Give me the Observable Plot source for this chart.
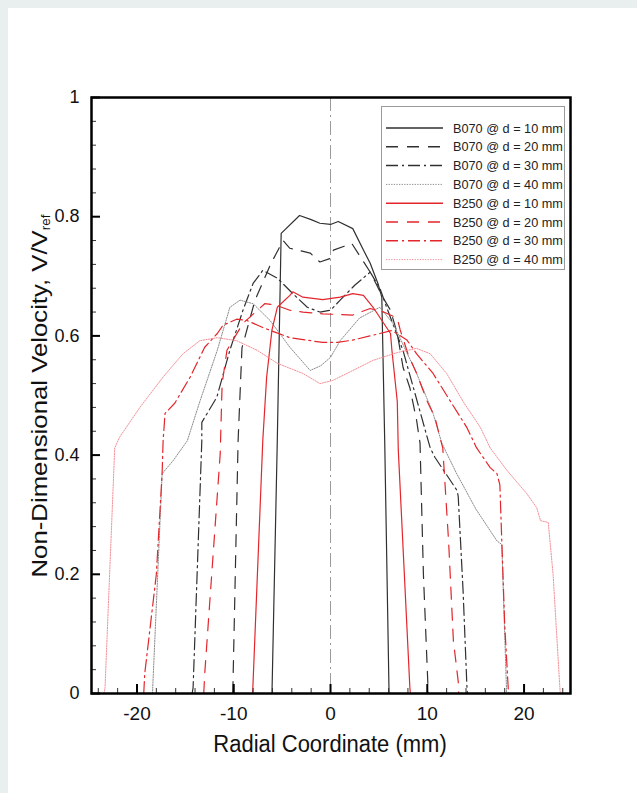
<!DOCTYPE html>
<html><head><meta charset="utf-8">
<script src="https://cdn.jsdelivr.net/npm/d3@7"></script>
<script src="https://cdn.jsdelivr.net/npm/@observablehq/plot@0.6"></script>
<style>
body{margin:0;background:#fff;font-family:"Liberation Sans",Arial,sans-serif}
#page{position:relative;width:637px;height:793px;background:#e9efee;overflow:hidden}
#panel{position:absolute;left:8px;top:8px;right:0;bottom:0;background:#fff}
#chart{position:absolute;left:0;top:0}
#legend{position:absolute;left:381px;top:106px;width:184px;height:164px;border:1px solid #9a9a9a;background:#fff;box-sizing:border-box}
</style></head><body>
<div id="page"><div id="panel"></div><div id="chart"></div><div id="legend"></div></div>
<script>
// ---- data (radial coordinate mm, non-dimensional velocity) ----
const r_B070_10 = [-6.05,-5.5,-5.1,-3.2,-2.0,-1.1,0,0.8,2.3,3.4,4.1,4.9,5.3,5.6,6.05];
const v_B070_10 = [0,0.424,0.772,0.802,0.795,0.789,0.787,0.792,0.78,0.744,0.722,0.688,0.665,0.424,0];

const r_B070_20 = [-10.1,-9.55,-9.15,-7.8,-6.2,-4.9,-4.2,-2.1,-1.1,0,0.3,2.2,4.1,5.4,6.2,6.9,7.5,8.2,8.9,9.25,9.6,10.1];
const v_B070_20 = [0,0.424,0.58,0.66,0.72,0.76,0.747,0.739,0.724,0.73,0.744,0.755,0.707,0.665,0.643,0.604,0.547,0.513,0.458,0.42,0.2,0];

const r_B070_30 = [-14.3,-14.2,-13.3,-13.3,-11.75,-10.4,-9.05,-8.0,-7.0,-5.5,-3.9,-2.4,-1.1,0,1,2.5,4.1,5.1,5.8,7.5,10.3,10.8,13.1,13.2,13.7,14.1,14.15];
const v_B070_30 = [0,0.01,0.424,0.455,0.497,0.576,0.643,0.688,0.71,0.697,0.671,0.648,0.64,0.643,0.66,0.685,0.707,0.68,0.648,0.575,0.412,0.396,0.34,0.33,0.172,0.01,0];

const r_B070_40 = [-18.4,-17.4,-16.3,-14.8,-13.5,-11.7,-10.4,-9.35,-8.0,-6.25,-4.2,-2.1,-1.0,0,1,3,5.1,6.5,8.9,10.6,11.5,13,15,17.2,17.7,18.2];
const v_B070_40 = [0,0.369,0.39,0.424,0.49,0.576,0.648,0.66,0.654,0.626,0.581,0.542,0.55,0.564,0.592,0.63,0.648,0.62,0.537,0.47,0.42,0.37,0.31,0.256,0.25,0];

const r_B250_10 = [-8.05,-7.0,-6.6,-6.05,-5.5,-4.2,-3.9,-2.85,-0.8,1,2.3,3.4,4.4,6.2,6.35,6.9,7.0,8.2,8.25];
const v_B250_10 = [0,0.424,0.531,0.61,0.648,0.668,0.674,0.665,0.661,0.665,0.671,0.668,0.648,0.604,0.575,0.49,0.41,0.01,0];

const r_B250_20 = [-13.1,-13.0,-11.4,-11.2,-10.7,-9.05,-6.8,-5.7,-4.2,-2.85,-0.8,2.3,4.1,5.5,6.9,7.2,8,8.9,10,10.8,11.3,11.6,12.2,12.7,13.2,13.25];
const v_B250_20 = [0,0.033,0.402,0.52,0.576,0.621,0.654,0.652,0.643,0.64,0.637,0.635,0.646,0.64,0.63,0.61,0.57,0.537,0.49,0.463,0.43,0.412,0.256,0.088,0.02,0];

const r_B250_30 = [-19.3,-19.2,-18.0,-17.4,-17.3,-17.1,-16.1,-14.5,-13,-11.7,-11.1,-9.7,-8.65,-7.0,-4.2,-0.8,0.7,2.3,5.1,6.35,7.9,8.9,10.6,12.4,14.1,15.1,16.5,17.2,17.5,17.7,18.0,18.35,18.4];
const v_B250_30 = [0,0.033,0.2,0.37,0.424,0.47,0.487,0.531,0.581,0.604,0.618,0.628,0.626,0.614,0.597,0.589,0.589,0.593,0.604,0.609,0.593,0.57,0.537,0.49,0.446,0.412,0.379,0.369,0.35,0.256,0.116,0.013,0];

const r_B250_40 = [-23.4,-23.3,-22.3,-21.8,-19.7,-17.3,-15.25,-13.5,-11.7,-9.7,-7.6,-5.5,-2.85,-1.1,0.2,1.7,4.4,6.9,8.9,10.3,12,13.7,15.5,16.5,18.25,20.3,21.3,21.7,22.5,23.0,23.7,23.75];
const v_B250_40 = [0,0.01,0.412,0.43,0.48,0.531,0.57,0.592,0.597,0.592,0.576,0.554,0.537,0.52,0.525,0.537,0.559,0.572,0.579,0.57,0.537,0.49,0.446,0.412,0.374,0.335,0.312,0.29,0.287,0.2,0.01,0];

const seriesNames = ["B070 @ d = 10 mm","B070 @ d = 20 mm","B070 @ d = 30 mm","B070 @ d = 40 mm",
                     "B250 @ d = 10 mm","B250 @ d = 20 mm","B250 @ d = 30 mm","B250 @ d = 40 mm"];
const xTicks = [-20,-10,0,10,20];
const xTickLabels = ["-20","-10","0","10","20"];
const xMinor = [-24,-22,-18,-16,-14,-12,-8,-6,-4,-2,2,4,6,8,12,14,16,18,22,24];
const yTicks = [0,0.2,0.4,0.6,0.8,1];
const yTickLabels = ["0","0.2","0.4","0.6","0.8","1"];
const yMinor = [0.04,0.08,0.12,0.16,0.24,0.28,0.32,0.36,0.44,0.48,0.52,0.56,0.64,0.68,0.72,0.76,0.84,0.88,0.92,0.96];
const xTitle = "Radial Coordinate (mm)";
const yTitleMain = "Non-Dimensional Velocity, V/V";
const yTitleSub = "ref";

// ---- styles ----
const BLACK = "#303030", GREY = "#8c8c8c", RED = "#e3262b", PINK = "#f38f96";
const styles = [
  {stroke: BLACK, dash: null, w: 1.2},
  {stroke: BLACK, dash: "12,9", w: 1.2},
  {stroke: BLACK, dash: "12,4,2,4", w: 1.2},
  {stroke: GREY, dash: "1.3,1.3", w: 1},
  {stroke: RED, dash: null, w: 1.2},
  {stroke: RED, dash: "12,9", w: 1.2},
  {stroke: RED, dash: "12,4,2,4", w: 1.2},
  {stroke: PINK, dash: "1.3,1.3", w: 1}
];
const rs = [r_B070_10,r_B070_20,r_B070_30,r_B070_40,r_B250_10,r_B250_20,r_B250_30,r_B250_40];
const vs = [v_B070_10,v_B070_20,v_B070_30,v_B070_40,v_B250_10,v_B250_20,v_B250_30,v_B250_40];
const series = seriesNames.map((name, k) => ({
  name, style: styles[k],
  rows: rs[k].map((r, i) => ({r, v: vs[k][i], name}))
}));

const W = 637, H = 793, mL = 91, mR = 67, mT = 97, mB = 100;
const plotW = W - mL - mR, plotH = H - mT - mB;

const marks = [
  Plot.ruleX([0], {stroke: "#9a9a9a", strokeWidth: 1, strokeDasharray: "14,4,2,4"}),
  ...series.map(s => Plot.line(s.rows, {x: "r", y: "v", stroke: s.style.stroke, strokeWidth: s.style.w,
      strokeDasharray: s.style.dash || undefined, curve: "linear"})),
  Plot.tickX(xMinor, {x: d => d, insetTop: plotH - 5, stroke: "#333", strokeWidth: 1}),
  Plot.tickX(xTicks, {x: d => d, insetTop: plotH - 9, stroke: "#000", strokeWidth: 2}),
  Plot.tickY(yMinor, {y: d => d, insetRight: plotW - 5, stroke: "#333", strokeWidth: 1}),
  Plot.tickY(yTicks, {y: d => d, insetRight: plotW - 9, stroke: "#000", strokeWidth: 2}),
  Plot.axisX({ticks: xTicks, tickSize: 0, tickPadding: 13, fontSize: 19, label: null,
      tickFormat: d => xTickLabels[xTicks.indexOf(d)]}),
  Plot.axisY({ticks: yTicks, tickSize: 0, tickPadding: 12, fontSize: 18, label: null,
      tickFormat: d => yTickLabels[yTicks.indexOf(d)]}),
  Plot.frame({stroke: "#000", strokeWidth: 2.5})
];

const chart = Plot.plot({
  width: W, height: H,
  marginLeft: mL, marginRight: mR, marginTop: mT, marginBottom: mB,
  x: {domain: [-24.7, 24.8]},
  y: {domain: [0, 1]},
  style: {background: "transparent", fontFamily: "'Liberation Sans', Arial, sans-serif", color: "#111", overflow: "visible"},
  marks
});
document.getElementById("chart").appendChild(chart);

// axis titles
const svg = d3.select(chart);
svg.append("text").attr("transform", "translate(330,752) scale(1,1.12)").attr("text-anchor", "middle")
  .attr("font-size", 22).attr("fill", "#111").text(xTitle);
const yt = svg.append("text").attr("transform", "translate(47,396) scale(1,1.12) rotate(-90)")
  .attr("text-anchor", "middle").attr("font-size", 23).attr("fill", "#111");
yt.append("tspan").text(yTitleMain);
yt.append("tspan").attr("font-size", 12).attr("dy", 3).text(yTitleSub);

// legend
const lg = d3.select("#legend").append("svg").attr("width", 184).attr("height", 164);
series.forEach((s, i) => {
  const y = 21 + i * 18.8;
  lg.append("line").attr("x1", 4).attr("x2", 61).attr("y1", y).attr("y2", y)
    .attr("stroke", s.style.stroke).attr("stroke-width", s.style.dash && s.style.dash.startsWith("1.3") ? 1 : 1.5)
    .attr("stroke-dasharray", s.style.dash);
  lg.append("text").attr("x", 71).attr("y", y + 4.5).attr("font-size", 12.7).attr("fill", "#222").text(s.name);
});
</script>
</body></html>
